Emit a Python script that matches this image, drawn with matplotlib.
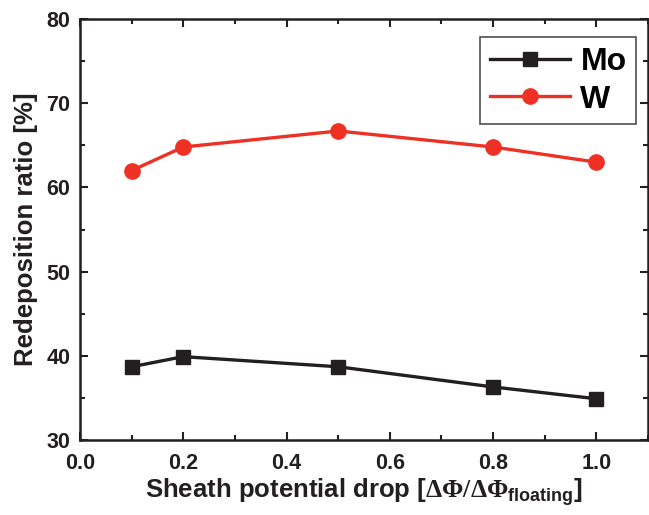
import numpy as np
import matplotlib
matplotlib.use('Agg')
import matplotlib.pyplot as plt
from matplotlib.ticker import MultipleLocator

plt.rcParams['font.family'] = 'Liberation Sans'
plt.rcParams['font.weight'] = 'bold'
plt.rcParams['mathtext.fontset'] = 'custom'
plt.rcParams['mathtext.rm'] = 'Liberation Serif'
plt.rcParams['mathtext.bf'] = 'Liberation Sans:bold'

# sheath potential drop values and redeposition ratios
drop = [0.1, 0.2, 0.5, 0.8, 1.0]
mo_ratio = [38.7, 39.9, 38.7, 36.3, 34.9]
w_ratio = [62.0, 64.8, 66.7, 64.8, 63.0]

ink = '#231f20'
red = '#ee3124'

fig = plt.figure(figsize=(6.49, 5.15), dpi=100)
ax = fig.add_axes([0.1233, 0.1456, 0.8752, 0.8175])

ax.plot(drop, mo_ratio, '-s', color=ink, lw=2.4, ms=9.5, label='Mo')
ax.plot(drop, w_ratio, '-o', color=red, lw=2.4, ms=11, label='W')

ax.set_xlim(0, 1.1)
ax.set_ylim(30, 80)
ax.xaxis.set_major_locator(MultipleLocator(0.2))
ax.xaxis.set_minor_locator(MultipleLocator(0.1))
ax.yaxis.set_major_locator(MultipleLocator(10))
ax.yaxis.set_minor_locator(MultipleLocator(5))
ax.xaxis.set_major_formatter(plt.FormatStrFormatter('%.1f'))

ax.tick_params(which='both', direction='in', top=True, right=True,
               width=1.5, colors=ink, labelsize=15.5)
ax.tick_params(axis='x', pad=9)
ax.tick_params(axis='y', pad=7)
ax.tick_params(which='major', length=6)
ax.tick_params(which='minor', length=3.5)
for s in ax.spines.values():
    s.set_linewidth(1.8)
    s.set_color(ink)

ax.set_xlabel(r'Sheath potential drop [$\mathrm{\Delta\Phi/\Delta\Phi}_{\mathbf{floating}}$]',
              fontsize=18.5, fontweight='bold', color=ink, labelpad=2)
ax.set_ylabel('Redeposition ratio [%]', fontsize=18.5, fontweight='bold',
              color=ink, labelpad=6)

leg = ax.legend(loc='upper right', bbox_to_anchor=(0.979, 0.957), borderaxespad=0,
                frameon=True, fancybox=False, edgecolor=ink, handlelength=2.5,
                handletextpad=0.33, borderpad=0.3, labelspacing=0.25,
                prop={'weight': 'bold', 'size': 23})
leg.get_frame().set_linewidth(1.2)

fig.savefig('out.png', dpi=100)
